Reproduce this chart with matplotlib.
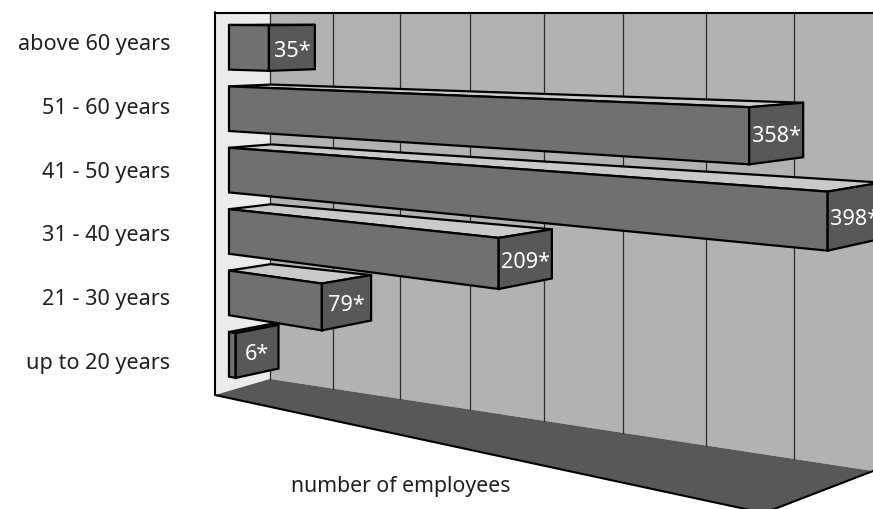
import math
import matplotlib
matplotlib.use("Agg")
import matplotlib.pyplot as plt
from matplotlib.patches import Polygon

plt.rcParams['font.family'] = ['Noto Sans', 'DejaVu Sans']

# rows from top to bottom
categories = ["above 60 years", "51 - 60 years", "41 - 50 years",
              "31 - 40 years", "21 - 30 years", "up to 20 years"]
employees = [35, 358, 398, 209, 79, 6]
value_labels = ["35*", "358*", "398*", "209*", "79*", "6*"]
xlabel = "number of employees"
grid_steps = 8 # wall lines, the last one falls outside of the picture

W = 873
H = 510
horizon = 13.5 # everything converges on this line
vp_left = -1620 # vanishing point of the value direction
vp_right = 1900 # vanishing point of the depth direction

wall_color = "#b1b2b4"
side_wall_color = "#ebebeb"
floor_color = "#58585a"
front_color = "#6f7072"
side_color = "#58585a"
top_color = "#c9cacc"
text_color = "#231f20"

fig = plt.figure(figsize=(W / 100, H / 100), dpi=100)
ax = fig.add_axes([0, 0, 1, 1])
ax.set_xlim(0, W)
ax.set_ylim(H, 0)
ax.axis("off")


def value_x(v): # value to x on the front plane of the bars
    return 229 + 1.115 * v / (1 - 0.00065 * v)


def front_point(x, y0): # follow the front plane to the left vanishing point
    return x, horizon + (y0 - horizon) * (x - vp_left) / (229 - vp_left)


def back_point(x, y): # push a front point back along the depth direction
    dx = 42 + 12 * (1 - math.exp(-(x - 229) / 100))
    return x + dx, horizon + (y - horizon) * (vp_right - x - dx) / (vp_right - x)


def wall_x(k):
    return 270 + 61.5 * k / (1 - 0.0256 * k)


def wall_bottom(x):
    return 380 + 0.1526 * (x - 270)


def poly(pts, color, edge="none", lw=0, z=1):
    ax.add_patch(Polygon(pts, closed=True, facecolor=color, edgecolor=edge,
                         linewidth=lw, joinstyle="miter", zorder=z))


# walls and floor
poly([(215, horizon), (270, horizon), (270, wall_bottom(270)), (215, 396)], side_wall_color)
poly([(270, horizon), (W, horizon), (W, wall_bottom(W)), (270, wall_bottom(270))], wall_color)
poly([(215, 396), (270, wall_bottom(270)), (W, wall_bottom(W)), (764, 514)], floor_color)
for k in range(grid_steps):
    x = wall_x(k)
    ax.plot([x, x], [horizon, wall_bottom(x)], color="#2b2b2d", lw=0.9, zorder=2)
ax.plot([215, W], [horizon, horizon], color="black", lw=1.5, zorder=3)
ax.plot([215, 215, 764, W], [horizon, 396, 514, wall_bottom(W)], color="black", lw=1.5, zorder=3)

# bars, the upper rows first so that the lower ones lie in front
bar_h = 44.6
for i, (value, label) in enumerate(zip(employees, value_labels)):
    y_top = 26 + 61.4 * i
    x = value_x(value)
    a = (229, y_top)
    b = (229, y_top + bar_h)
    c = front_point(x, y_top + bar_h)
    d = front_point(x, y_top)
    e = back_point(*d)
    f = back_point(*c)
    g = back_point(*a)
    z = 5 + i
    poly([a, d, e, g], top_color, "black", 1.6, z)
    poly([a, b, c, d], front_color, "black", 1.6, z)
    poly([d, c, f, e], side_color, "black", 1.6, z)
    ax.text((d[0] + e[0]) / 2, (d[1] + c[1] + e[1] + f[1]) / 4 + 2.5, label, color="white",
            fontsize=15.6, ha="center", va="center", zorder=z)
    ax.text(170, 44.5 + 63.8 * i, categories[i], color=text_color, fontsize=15.6,
            ha="right", va="center")

ax.text(401, 486.5, xlabel, color=text_color, fontsize=15.3, ha="center", va="center")

fig.savefig("out.png", dpi=100)
